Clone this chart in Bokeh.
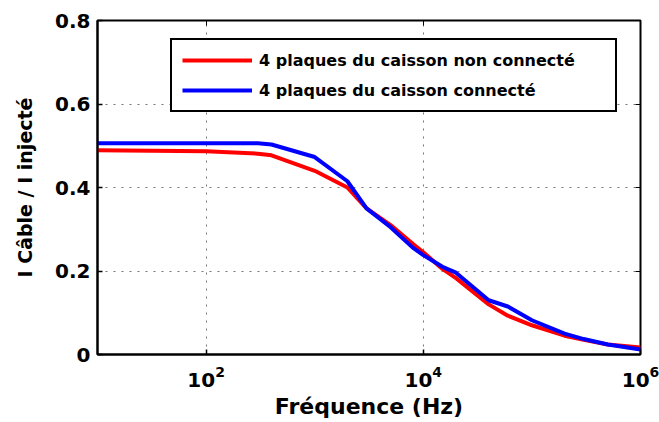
from bokeh.plotting import figure
from bokeh.models import (FixedTicker, LogAxis, LinearAxis, Legend, LegendItem,
                          ColumnDataSource, Range1d)
from bokeh.embed import file_html
from bokeh.resources import INLINE

# Data
freq = [10, 100, 300, 400, 1000, 2000, 3000, 5000, 8000, 10000, 15000, 20000,
        40000, 60000, 100000, 200000, 300000, 500000, 1000000]
non_connecte = [0.489, 0.487, 0.481, 0.477, 0.440, 0.400, 0.350, 0.310, 0.265, 0.245,
                0.205, 0.183, 0.120, 0.093, 0.070, 0.045, 0.035, 0.024, 0.017]
connecte = [0.506, 0.506, 0.506, 0.503, 0.473, 0.415, 0.350, 0.305, 0.256, 0.238,
            0.210, 0.196, 0.130, 0.115, 0.082, 0.050, 0.037, 0.024, 0.012]
x_ticks = [1e2, 1e4, 1e6]
y_ticks = [0, 0.2, 0.4, 0.6, 0.8]
labels = ["4 plaques du caisson non connecté", "4 plaques du caisson connecté"]
x_label = "Fréquence (Hz)"
y_label = "I Câble / I injecté"

FONT = "DejaVu Sans"

p = figure(width=659, height=422, x_axis_type="log",
           x_range=Range1d(10, 1e6), y_range=Range1d(0, 0.8),
           output_backend="svg", toolbar_location=None,
           min_border_left=97, min_border_right=19, min_border_top=20,
           min_border_bottom=68)
p.background_fill_color = "white"
p.border_fill_color = "white"
p.outline_line_color = "black"
p.outline_line_width = 2

src = ColumnDataSource(dict(f=freq, a=non_connecte, b=connecte))
r1 = p.line("f", "a", source=src, line_color="#ff0000", line_width=4)
r2 = p.line("f", "b", source=src, line_color="#0000ff", line_width=4)

# axes
xa = p.xaxis[0]
xa.ticker = FixedTicker(ticks=x_ticks)
ya = p.yaxis[0]
ya.ticker = FixedTicker(ticks=y_ticks)
ya.major_label_overrides = {0: "0"}
for ax in (xa, ya):
    ax.axis_line_width = 2
    ax.axis_line_color = "black"
    ax.major_tick_in = 5
    ax.major_tick_out = 0
    ax.major_tick_line_width = 1.5
    ax.minor_tick_line_color = None
    ax.major_label_text_font = FONT
    ax.major_label_text_font_style = "bold"
    ax.major_label_text_font_size = "20px"
    ax.major_label_text_color = "black"
    ax.axis_label_text_font = FONT
    ax.axis_label_text_font_style = "bold"
    ax.axis_label_text_color = "black"
xa.axis_label = x_label
xa.axis_label_text_font_size = "22px"
xa.major_label_standoff = 11
xa.axis_label_standoff = 4
ya.axis_label = y_label
ya.axis_label_text_font_size = "19px"
ya.major_label_standoff = 7
ya.axis_label_standoff = 16

# mirrored ticks (top / right)
top = LogAxis(ticker=FixedTicker(ticks=x_ticks),
              major_label_overrides={t: "" for t in x_ticks},
              major_label_text_font_size="8px",
              major_tick_in=5, major_tick_out=0, minor_tick_line_color=None,
              axis_line_color=None, major_label_standoff=0)
right = LinearAxis(ticker=FixedTicker(ticks=y_ticks),
                   major_label_overrides={t: "" for t in y_ticks},
                   major_label_text_font_size="8px",
                   major_tick_in=5, major_tick_out=0, minor_tick_line_color=None,
                   axis_line_color=None, major_label_standoff=0)
p.add_layout(top, "above")
p.add_layout(right, "right")

# grid
p.xgrid.ticker = FixedTicker(ticks=[1e2, 1e4])
p.ygrid.ticker = FixedTicker(ticks=[0.2, 0.4, 0.6])
for g in (p.xgrid[0], p.ygrid[0]):
    g.grid_line_color = "#777777"
    g.grid_line_dash = "2 6"
    g.grid_line_width = 1

legend = Legend(items=[LegendItem(label=labels[0], renderers=[r1]),
                       LegendItem(label=labels[1], renderers=[r2])],
                location=(73, 242), padding=10, spacing=10, margin=0,
                glyph_width=70, glyph_height=20, label_height=20,
                label_width=346, label_standoff=7,
                label_text_font=FONT, label_text_font_style="bold",
                label_text_font_size="16px", label_text_color="black",
                border_line_color="black", border_line_width=2,
                border_line_alpha=1,
                background_fill_color="white", background_fill_alpha=1)
p.add_layout(legend, "center")

open("out.html", "w").write(file_html(p, INLINE))
